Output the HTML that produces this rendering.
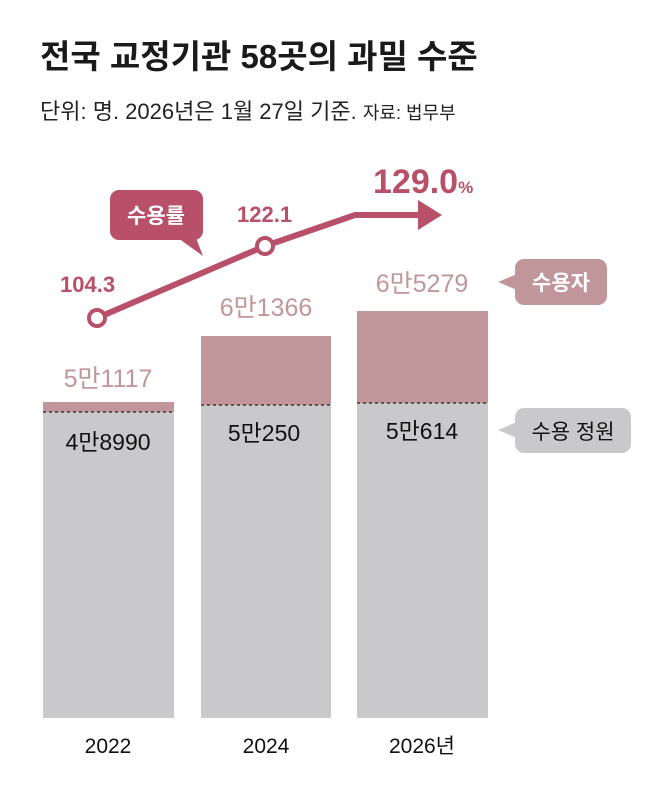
<!DOCTYPE html>
<html><head><meta charset="utf-8"><style>
body{margin:0;background:#fff;}
svg text{font-family:"Liberation Sans","Noto Sans CJK KR",sans-serif;}
</style></head><body>
<svg width="658" height="781" viewBox="0 0 658 781" xmlns="http://www.w3.org/2000/svg">
<rect width="658" height="781" fill="#fff"/>
<text x="40" y="68" font-size="33" font-weight="bold" fill="#1a1a1a">전국 교정기관 58곳의 과밀 수준</text>
<text x="40" y="119" font-size="22" fill="#222">단위: 명. 2026년은 1월 27일 기준. <tspan font-size="18">자료: 법무부</tspan></text>
<rect x="43" y="402" width="131" height="316" fill="#c9c9cb"/>
<rect x="43" y="402" width="131" height="10" fill="#c1969a"/>
<rect x="201" y="336" width="130" height="382" fill="#c9c9cb"/>
<rect x="201" y="336" width="130" height="69" fill="#c1969a"/>
<rect x="357" y="311" width="131" height="407" fill="#c9c9cb"/>
<rect x="357" y="311" width="131" height="92" fill="#c1969a"/>
<g stroke="#222" stroke-width="1.3" stroke-dasharray="3,3">
<line x1="43" y1="412" x2="174" y2="412"/><line x1="201" y1="405" x2="331" y2="405"/><line x1="357" y1="403" x2="488" y2="403"/>
</g>
<g font-size="25" fill="#c1969a" text-anchor="middle">
<text x="108" y="387">5만1117</text><text x="266" y="316">6만1366</text><text x="422" y="292">6만5279</text>
</g>
<g font-size="23" fill="#111" text-anchor="middle">
<text x="108" y="450">4만8990</text><text x="264" y="441">5만250</text><text x="422" y="439">5만614</text>
</g>
<g font-size="21" fill="#111" text-anchor="middle">
<text x="108" y="753">2022</text><text x="266" y="753">2024</text><text x="422" y="753">2026년</text>
</g>
<polyline points="97,318 265,246 355,215 420,215" fill="none" stroke="#b9506a" stroke-width="6"/>
<polygon points="418,200 442,215 418,230" fill="#b9506a"/>
<circle cx="97" cy="318" r="8" fill="#fff" stroke="#b9506a" stroke-width="4"/>
<circle cx="265" cy="246" r="8" fill="#fff" stroke="#b9506a" stroke-width="4"/>
<g fill="#b9506a" font-weight="bold">
<text x="60" y="292" font-size="22">104.3</text>
<text x="237" y="222" font-size="22">122.1</text>
<text x="373" y="193" font-size="34">129.0<tspan font-size="17">%</tspan></text>
</g>
<rect x="110" y="190" width="93" height="50" rx="9" fill="#b9506a"/>
<polygon points="178,238 196,238 203,256" fill="#b9506a"/>
<text x="156" y="223" font-size="21" font-weight="bold" fill="#fff" text-anchor="middle">수용률</text>
<rect x="515" y="259" width="92" height="46" rx="9" fill="#c1969a"/>
<polygon points="517,274 517,290 498,282" fill="#c1969a"/>
<text x="561" y="290" font-size="21" font-weight="bold" fill="#fff" text-anchor="middle">수용자</text>
<rect x="515" y="408" width="116" height="45" rx="9" fill="#c9c9cb"/>
<polygon points="517,422 517,438 498,430" fill="#c9c9cb"/>
<text x="573" y="439" font-size="21" fill="#111" text-anchor="middle">수용 정원</text>
</svg>
</body></html>
